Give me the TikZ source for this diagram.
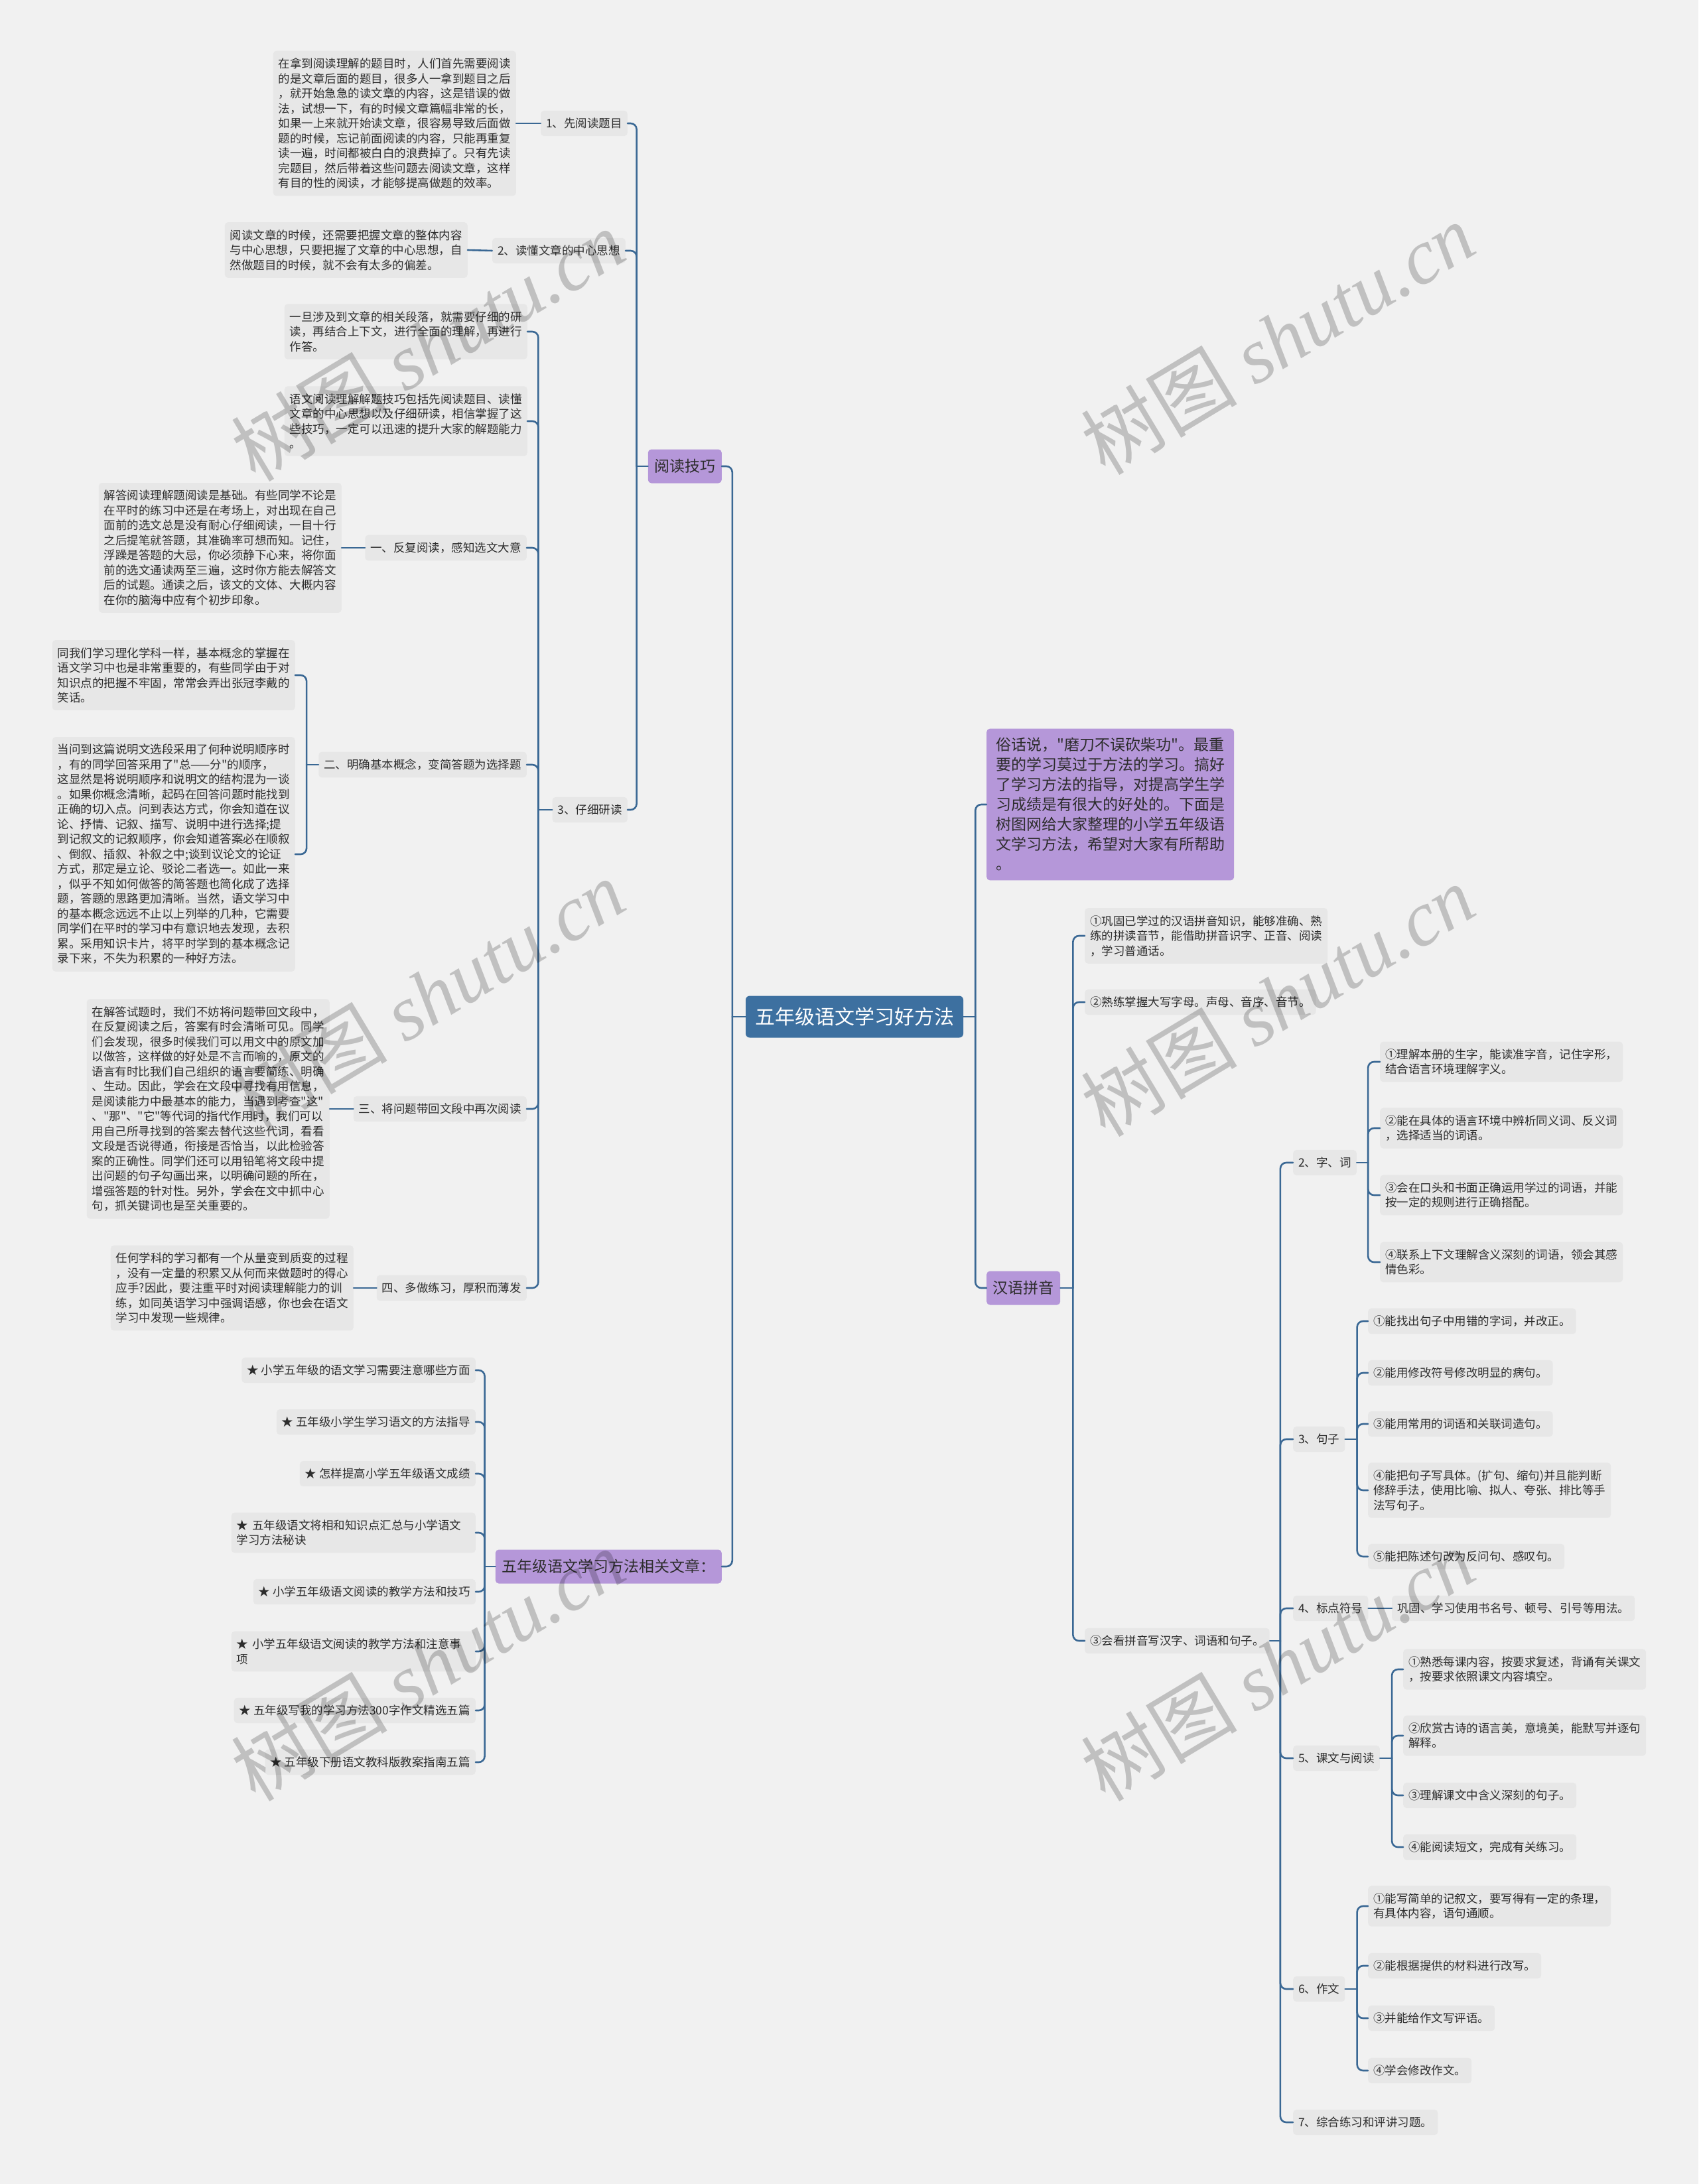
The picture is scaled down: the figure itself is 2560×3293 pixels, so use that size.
\documentclass[tikz,border=0pt]{standalone}
\usepackage{fontspec}
\setmainfont{Noto Sans CJK SC}[Ligatures=TeXOff]
\newfontfamily\wmfont{Liberation Serif}

\newcommand{\leaffont}{\fontsize{17.5}{22.5}\selectfont}
\newcommand{\branchfont}{\fontsize{23}{30}\selectfont}
\newcommand{\rootfont}{\fontsize{30}{36}\selectfont}

\tikzset{
  leaf/.style={fill=leafcol, rounded corners=5pt, inner xsep=8pt, inner ysep=11pt,
    minimum height=38pt, text=inkcol, align=left, font=\leaffont},
  branch/.style={fill=purplecol, rounded corners=5pt, inner xsep=9.5pt, inner ysep=13pt,
    minimum height=51pt, text=inkcol, align=left, font=\branchfont},
  root/.style={fill=rootcol, rounded corners=6pt, inner xsep=14pt, inner ysep=16pt,
    minimum height=63pt, text=white, font=\rootfont},
  conn/.style={draw=linkcol, line width=2.6pt, line cap=round},
  wmark/.style={text=black, opacity=0.2, rotate=31, font=\fontsize{118}{118}\selectfont},
}

\begin{document}
\begin{tikzpicture}[x=1pt, y=-1pt]

\definecolor{bgcol}{RGB}{241,241,241}
\definecolor{leafcol}{RGB}{231,231,231}
\definecolor{inkcol}{RGB}{45,45,45}
\definecolor{linkcol}{RGB}{58,104,148}
\definecolor{rootcol}{RGB}{61,112,160}
\definecolor{purplecol}{RGB}{181,151,217}

% ---------------- helpers: fan out from a parent ----------------
\newcommand{\fanL}[3]{%
  \draw[conn] (#1.west) -- ++(-#2,0) coordinate (#1-j);
  \foreach \kid in {#3} {\draw[conn, rounded corners=9pt] (#1-j) |- (\kid.east);}
}
\newcommand{\fanR}[3]{%
  \draw[conn] (#1.east) -- ++(#2,0) coordinate (#1-j);
  \foreach \kid in {#3} {\draw[conn, rounded corners=9pt] (#1-j) |- (\kid.west);}
}

\useasboundingbox (0,0) rectangle (2560,3293);
\fill[bgcol] (0,0) rectangle (2560,3293);

\node[root] (root) at (1288,1533) {五年级语文学习好方法};

% =========== LEFT: 阅读技巧 ===========
\node[branch, anchor=east] (tips) at (1088,703) {阅读技巧};

\node[leaf, anchor=east] (tipRead) at (946,186) {1、先阅读题目};
\node[leaf, anchor=east] (txtRead) at (778,186) {在拿到阅读理解的题目时，人们首先需要阅读\\
的是文章后面的题目，很多人一拿到题目之后\\
，就开始急急的读文章的内容，这是错误的做\\
法，试想一下，有的时候文章篇幅非常的长，\\
如果一上来就开始读文章，很容易导致后面做\\
题的时候，忘记前面阅读的内容，只能再重复\\
读一遍，时间都被白白的浪费掉了。只有先读\\
完题目，然后带着这些问题去阅读文章，这样\\
有目的性的阅读，才能够提高做题的效率。};

\node[leaf, anchor=east] (tipMain) at (943,378) {2、读懂文章的中心思想};
\node[leaf, anchor=east] (txtMain) at (705,377) {阅读文章的时候，还需要把握文章的整体内容\\
与中心思想，只要把握了文章的中心思想，自\\
然做题目的时候，就不会有太多的偏差。};

\node[leaf, anchor=east] (tipStudy) at (946,1221) {3、仔细研读};
\node[leaf, anchor=east] (txtStudyA) at (795,500) {一旦涉及到文章的相关段落，就需要仔细的研\\
读，再结合上下文，进行全面的理解，再进行\\
作答。};
\node[leaf, anchor=east] (txtStudyB) at (795,635) {语文阅读理解解题技巧包括先阅读题目、读懂\\
文章的中心思想以及仔细研读，相信掌握了这\\
些技巧，一定可以迅速的提升大家的解题能力\\
。};

\node[leaf, anchor=east] (wayOne) at (794,826) {一、反复阅读，感知选文大意};
\node[leaf, anchor=east] (txtOne) at (515,826) {解答阅读理解题阅读是基础。有些同学不论是\\
在平时的练习中还是在考场上，对出现在自己\\
面前的选文总是没有耐心仔细阅读，一目十行\\
之后提笔就答题，其准确率可想而知。记住，\\
浮躁是答题的大忌，你必须静下心来，将你面\\
前的选文通读两至三遍，这时你方能去解答文\\
后的试题。通读之后，该文的文体、大概内容\\
在你的脑海中应有个初步印象。};

\node[leaf, anchor=east] (wayTwo) at (794,1153) {二、明确基本概念，变简答题为选择题};
\node[leaf, anchor=east] (txtTwoA) at (445,1018) {同我们学习理化学科一样，基本概念的掌握在\\
语文学习中也是非常重要的，有些同学由于对\\
知识点的把握不牢固，常常会弄出张冠李戴的\\
笑话。};
\node[leaf, anchor=east] (txtTwoB) at (445,1288) {当问到这篇说明文选段采用了何种说明顺序时\\
，有的同学回答采用了"总——分"的顺序，\\
这显然是将说明顺序和说明文的结构混为一谈\\
。如果你概念清晰，起码在回答问题时能找到\\
正确的切入点。问到表达方式，你会知道在议\\
论、抒情、记叙、描写、说明中进行选择;提\\
到记叙文的记叙顺序，你会知道答案必在顺叙\\
、倒叙、插叙、补叙之中;谈到议论文的论证\\
方式，那定是立论、驳论二者选一。如此一来\\
，似乎不知如何做答的简答题也简化成了选择\\
题，答题的思路更加清晰。当然，语文学习中\\
的基本概念远远不止以上列举的几种，它需要\\
同学们在平时的学习中有意识地去发现，去积\\
累。采用知识卡片，将平时学到的基本概念记\\
录下来，不失为积累的一种好方法。};

\node[leaf, anchor=east] (wayThree) at (794,1672) {三、将问题带回文段中再次阅读};
\node[leaf, anchor=east] (txtThree) at (497,1672) {在解答试题时，我们不妨将问题带回文段中，\\
在反复阅读之后，答案有时会清晰可见。同学\\
们会发现，很多时候我们可以用文中的原文加\\
以做答，这样做的好处是不言而喻的，原文的\\
语言有时比我们自己组织的语言要简练、明确\\
、生动。因此，学会在文段中寻找有用信息，\\
是阅读能力中最基本的能力，当遇到考查"这"\\
、"那"、"它"等代词的指代作用时，我们可以\\
用自己所寻找到的答案去替代这些代词，看看\\
文段是否说得通，衔接是否恰当，以此检验答\\
案的正确性。同学们还可以用铅笔将文段中提\\
出问题的句子勾画出来，以明确问题的所在，\\
增强答题的针对性。另外，学会在文中抓中心\\
句，抓关键词也是至关重要的。};

\node[leaf, anchor=east] (wayFour) at (794,1942) {四、多做练习，厚积而薄发};
\node[leaf, anchor=east] (txtFour) at (533,1942) {任何学科的学习都有一个从量变到质变的过程\\
，没有一定量的积累又从何而来做题时的得心\\
应手?因此，要注重平时对阅读理解能力的训\\
练，如同英语学习中强调语感，你也会在语文\\
学习中发现一些规律。};

% =========== LEFT: 相关文章 ===========
\node[branch, anchor=east] (links) at (1088,2362) {五年级语文学习方法相关文章：};
\node[leaf, anchor=east] (link1) at (717,2066) {★ 小学五年级的语文学习需要注意哪些方面};
\node[leaf, anchor=east] (link2) at (717,2144) {★ 五年级小学生学习语文的方法指导};
\node[leaf, anchor=east] (link3) at (717,2222) {★ 怎样提高小学五年级语文成绩};
\node[leaf, anchor=east, text width=352pt] (link4) at (717,2311) {★ 五年级语文将相和知识点汇总与小学语文\\
学习方法秘诀};
\node[leaf, anchor=east] (link5) at (717,2400) {★ 小学五年级语文阅读的教学方法和技巧};
\node[leaf, anchor=east, text width=352pt] (link6) at (717,2490) {★ 小学五年级语文阅读的教学方法和注意事\\
项};
\node[leaf, anchor=east] (link7) at (717,2579) {★ 五年级写我的学习方法300字作文精选五篇};
\node[leaf, anchor=east] (link8) at (717,2657) {★ 五年级下册语文教科版教案指南五篇};

% =========== RIGHT: 引言 + 汉语拼音 ===========
\node[branch, anchor=west, inner xsep=14pt, inner ysep=14pt] (intro) at (1487,1213) {俗话说，"磨刀不误砍柴功"。最重\\
要的学习莫过于方法的学习。搞好\\
了学习方法的指导，对提高学生学\\
习成绩是有很大的好处的。下面是\\
树图网给大家整理的小学五年级语\\
文学习方法，希望对大家有所帮助\\
。};
\node[branch, anchor=west] (pinyin) at (1487,1942) {汉语拼音};

\node[leaf, anchor=west] (pyOne) at (1635,1411) {①巩固已学过的汉语拼音知识，能够准确、熟\\
练的拼读音节，能借助拼音识字、正音、阅读\\
，学习普通话。};
\node[leaf, anchor=west] (pyTwo) at (1635,1511) {②熟练掌握大写字母。声母、音序、音节。};
\node[leaf, anchor=west] (pyThree) at (1635,2474) {③会看拼音写汉字、词语和句子。};

\node[leaf, anchor=west] (partWord) at (1949,1753) {2、字、词};
\node[leaf, anchor=west] (word1) at (2080,1601) {①理解本册的生字，能读准字音，记住字形，\\
结合语言环境理解字义。};
\node[leaf, anchor=west] (word2) at (2080,1701) {②能在具体的语言环境中辨析同义词、反义词\\
，选择适当的词语。};
\node[leaf, anchor=west] (word3) at (2080,1802) {③会在口头和书面正确运用学过的词语，并能\\
按一定的规则进行正确搭配。};
\node[leaf, anchor=west] (word4) at (2080,1903) {④联系上下文理解含义深刻的词语，领会其感\\
情色彩。};

\node[leaf, anchor=west] (partSent) at (1949,2170) {3、句子};
\node[leaf, anchor=west] (sent1) at (2062,1992) {①能找出句子中用错的字词，并改正。};
\node[leaf, anchor=west] (sent2) at (2062,2070) {②能用修改符号修改明显的病句。};
\node[leaf, anchor=west] (sent3) at (2062,2147) {③能用常用的词语和关联词造句。};
\node[leaf, anchor=west] (sent4) at (2062,2247) {④能把句子写具体。(扩句、缩句)并且能判断\\
修辞手法，使用比喻、拟人、夸张、排比等手\\
法写句子。};
\node[leaf, anchor=west] (sent5) at (2062,2347) {⑤能把陈述句改为反问句、感叹句。};

\node[leaf, anchor=west] (partPunc) at (1949,2425) {4、标点符号};
\node[leaf, anchor=west] (punc1) at (2098,2425) {巩固、学习使用书名号、顿号、引号等用法。};

\node[leaf, anchor=west] (partText) at (1949,2651) {5、课文与阅读};
\node[leaf, anchor=west] (text1) at (2115,2517) {①熟悉每课内容，按要求复述，背诵有关课文\\
，按要求依照课文内容填空。};
\node[leaf, anchor=west] (text2) at (2115,2617) {②欣赏古诗的语言美，意境美，能默写并逐句\\
解释。};
\node[leaf, anchor=west] (text3) at (2115,2707) {③理解课文中含义深刻的句子。};
\node[leaf, anchor=west] (text4) at (2115,2785) {④能阅读短文，完成有关练习。};

\node[leaf, anchor=west] (partComp) at (1949,2999) {6、作文};
\node[leaf, anchor=west] (comp1) at (2062,2874) {①能写简单的记叙文，要写得有一定的条理，\\
有具体内容，语句通顺。};
\node[leaf, anchor=west] (comp2) at (2062,2964) {②能根据提供的材料进行改写。};
\node[leaf, anchor=west] (comp3) at (2062,3043) {③并能给作文写评语。};
\node[leaf, anchor=west] (comp4) at (2062,3122) {④学会修改作文。};

\node[leaf, anchor=west] (partPrac) at (1949,3200) {7、综合练习和评讲习题。};

% ---------------- connectors ----------------
\fanL{root}{20}{tips,links}
\fanL{tips}{17}{tipRead,tipMain,tipStudy}
\draw[conn] (tipRead.west) -- (txtRead.east);
\draw[conn] (tipMain.west) -- (txtMain.east);
\fanL{tipStudy}{21}{txtStudyA,txtStudyB,wayOne,wayTwo,wayThree,wayFour}
\draw[conn] (wayOne.west) -- (txtOne.east);
\fanL{wayTwo}{18}{txtTwoA,txtTwoB}
\draw[conn] (wayThree.west) -- (txtThree.east);
\draw[conn] (wayFour.west) -- (txtFour.east);
\fanL{links}{16}{link1,link2,link3,link4,link5,link6,link7,link8}

\fanR{root}{18}{intro,pinyin}
\fanR{pinyin}{19}{pyOne,pyTwo,pyThree}
\fanR{pyThree}{16}{partWord,partSent,partPunc,partText,partComp,partPrac}
\fanR{partWord}{17}{word1,word2,word3,word4}
\fanR{partSent}{18}{sent1,sent2,sent3,sent4,sent5}
\draw[conn] (partPunc.east) -- (punc1.west);
\fanR{partText}{18}{text1,text2,text3,text4}
\fanR{partComp}{18}{comp1,comp2,comp3,comp4}

% ---------------- watermarks ----------------
\foreach \wx/\wy [count=\i] in {645/520, 1926/510, 645/1500, 1926/1508, 645/2510, 1926/2510}
  \node[wmark] (wm\i) at (\wx,\wy) {树图 {\wmfont\itshape shutu.cn}};

\end{tikzpicture}
\end{document}
